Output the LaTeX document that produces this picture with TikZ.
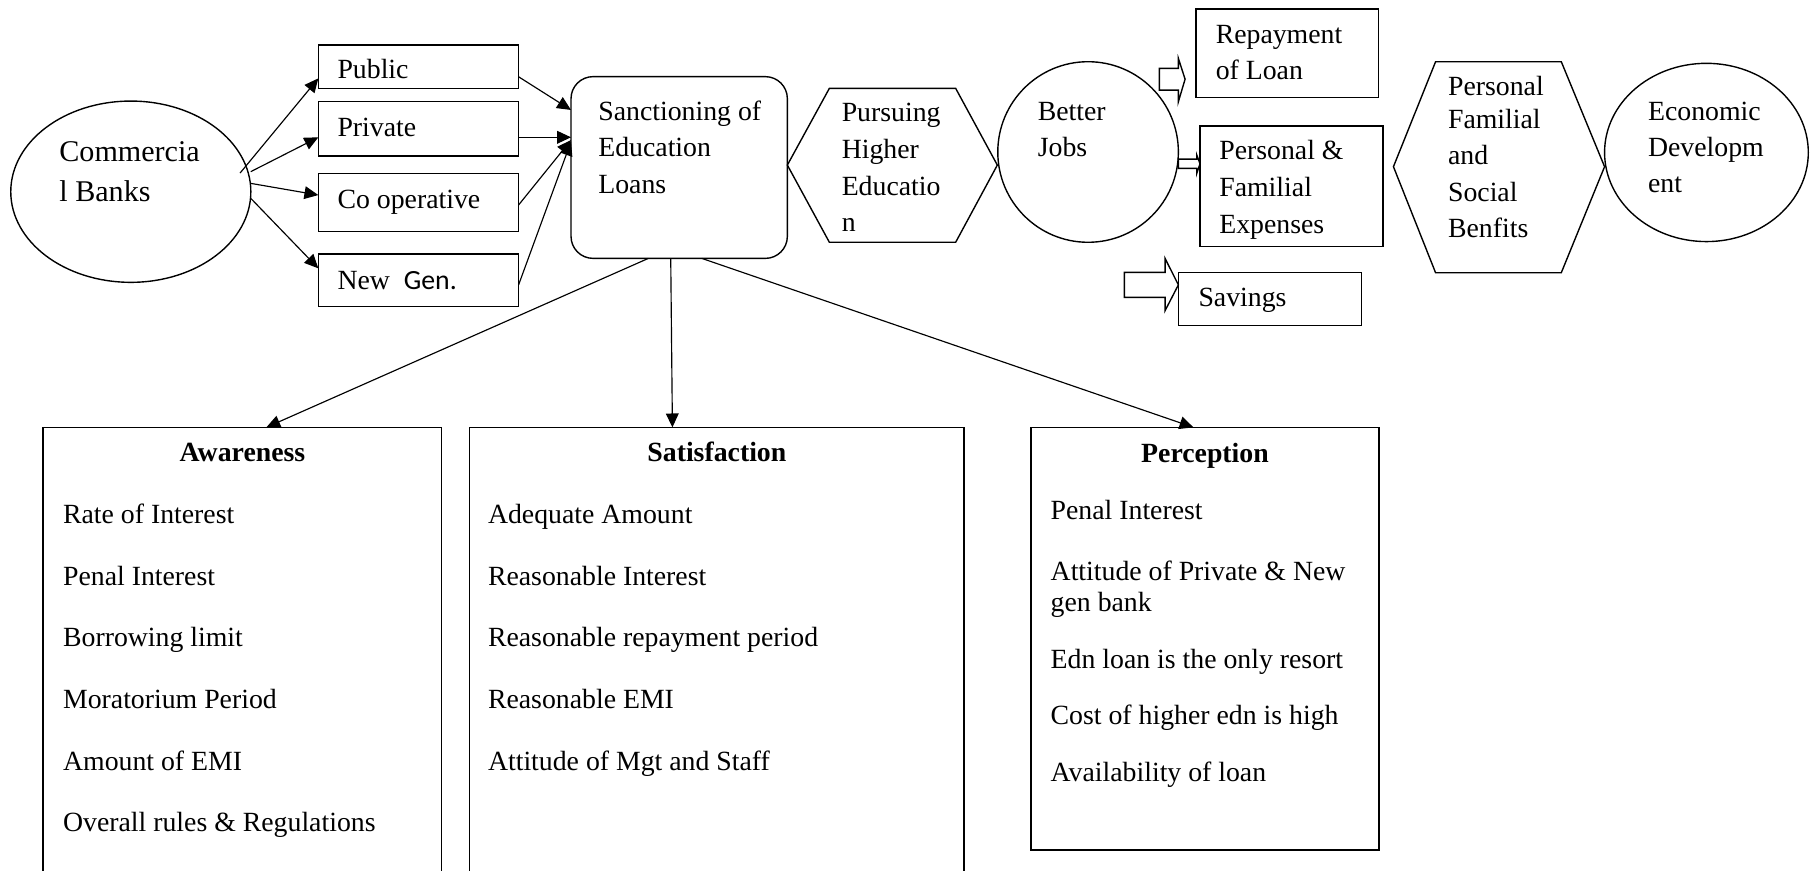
\documentclass[tikz,border=0pt]{standalone}
\usepackage{fontspec}
\setmainfont{Liberation Serif}
\newfontfamily\calib{Carlito}
\usetikzlibrary{arrows.meta,calc,shapes.geometric}
\begin{document}
\begin{tikzpicture}[x=0.5pt,y=-0.5pt,
  box/.style={draw,line width=0.6pt,rectangle,inner sep=0pt,outer sep=0pt,anchor=north west},
  oval/.style={draw,line width=0.6pt,ellipse,inner sep=0pt,outer sep=0pt},
  txt/.style={anchor=base west,inner sep=0pt,outer sep=0pt,font=\fontsize{12}{14}\selectfont},
  bigtxt/.style={txt,font=\fontsize{13}{16}\selectfont},
  ttl/.style={anchor=base,inner sep=0pt,outer sep=0pt,font=\fontsize{12}{14}\selectfont\bfseries},
  conn/.style={line width=0.5pt,-{Triangle[length=6pt,width=5.5pt]}},
  hexa/.style={draw,line width=0.6pt},
  blk/.style={draw,line width=0.6pt,fill=white}]
\useasboundingbox (0,0) rectangle (1568,752);
\clip (0,0) rectangle (1568,752);

% Commercial banks
\node[oval,minimum width=103.7pt,minimum height=78.3pt] (cb) at (113,165.6) {};
\node[bigtxt] (cb1) at (51.3,139.7) {Commercia};
\node[bigtxt] (cb2) at (51.3,174.2) {l Banks};

% bank types
\node[box,minimum width=86.5pt,minimum height=18.7pt] (pub) at (275,38.9) {};
\node[box,minimum width=86.5pt,minimum height=23.5pt] (priv) at (275,87.8) {};
\node[box,minimum width=86.5pt,minimum height=25.2pt] (coop) at (275,149.7) {};
\node[box,minimum width=86.5pt,minimum height=22.75pt] (newgen) at (275,219.4) {};
\node[txt] (pubt) at (291.6,67.7) {Public};
\node[txt] (privt) at (291.6,117.5) {Private};
\node[txt] (coopt) at (291.6,180) {Co operative};
\node[txt] (newgent) at (291.6,250) {New\ \ {\calib Gen.}};

% sanctioning
\node[box,rounded corners=9.5pt,minimum width=93.45pt,minimum height=78.5pt] (sanct) at (493.3,66.2) {};
\node[txt] (sa1) at (516.9,103.7) {Sanctioning of};
\node[txt] (sa2) at (516.9,135.4) {Education};
\node[txt] (sa3) at (516.9,167) {Loans};

% pursuing hexagon
\draw[hexa] (680.2,142.6) -- (716.5,76.3) -- (825.6,76.3) -- (861.6,142.6) -- (825.6,209.3) -- (716.5,209.3) -- cycle;
\node[txt] (pu1) at (727.2,105.1) {Pursuing};
\node[txt] (pu2) at (727.2,136.8) {Higher};
\node[txt] (pu3) at (727.2,169.3) {Educatio};
\node[txt] (pu4) at (727.2,200.2) {n};

% better jobs
\node[oval,minimum width=78pt,minimum height=78pt] (jobs) at (940,131.3) {};
\node[txt] (jo1) at (896.6,103.7) {Better};
\node[txt] (jo2) at (896.6,135.4) {Jobs};

% outcomes
\node[box,minimum width=78.75pt,minimum height=38.3pt] (repay) at (1033.3,7.8) {};
\node[txt] (re1) at (1050.3,37.4) {Repayment};
\node[txt] (re2) at (1050.3,69.1) {of Loan};
\node[box,minimum width=79pt,minimum height=52.1pt] (pfe) at (1036.8,108.9) {};
\node[txt] (pf1) at (1053.4,138.2) {Personal \&};
\node[txt] (pf2) at (1053.4,169.9) {Familial};
\node[txt] (pf3) at (1053.4,201.6) {Expenses};
\node[box,minimum width=79pt,minimum height=22.9pt] (sav) at (1018,235.6) {};
\node[txt] (sv1) at (1035.4,264.4) {Savings};

% block arrows
\draw[blk] (1001.6,59) -- (1018,59) -- (1018,50.4) -- (1023.8,68.4) -- (1018,87.9) -- (1018,77.8) -- (1001.6,77.8) -- cycle;
\draw[blk] (1018,137.4) -- (1033.9,137.4) -- (1033.9,133.9) -- (1036.7,141.4) -- (1033.9,149.7) -- (1033.9,145.4) -- (1018,145.4) -- cycle;
\draw[blk] (971.3,235.3) -- (1006.5,235.3) -- (1006.5,223.2) -- (1018,246.1) -- (1006.5,268.4) -- (1006.5,256.9) -- (971.3,256.9) -- cycle;

% benefits hexagon
\draw[hexa] (1203.8,144) -- (1240.2,53.3) -- (1348.8,53.3) -- (1386.2,144) -- (1348.8,235.6) -- (1240.2,235.6) -- cycle;
\node[txt] (be1) at (1251,82.1) {Personal};
\node[txt] (be2) at (1251,110.9) {Familial};
\node[txt] (be3) at (1251,142.5) {and};
\node[txt] (be4) at (1251,174.2) {Social};
\node[txt] (be5) at (1251,205) {Benfits};

% economic development
\node[oval,minimum width=88pt,minimum height=77pt] (econ) at (1474.2,131.7) {};
\node[txt] (ec1) at (1423.8,103.7) {Economic};
\node[txt] (ec2) at (1423.8,135.4) {Developm};
\node[txt] (ec3) at (1423.8,166.5) {ent};

% connectors banks
\coordinate (s1) at (207.4,149.5);
\coordinate (s2) at (216.6,148.3);
\coordinate (s3) at (216.6,158.4);
\coordinate (s4) at (216.6,171.3);
\draw[conn] (s1) -- ($(pub.west)+(0,10.1)$);
\draw[conn] (s2) -- ($(priv.west)+(0,7.3)$);
\draw[conn] (s3) -- ($(coop.west)+(0,-6.4)$);
\draw[conn] (s4) -- ($(newgen.west)+(0,-10.35)$);
\draw[conn] ($(pub.east)+(0,8.7)$) -- ($(sanct.west)+(0,-49.7)$);
\draw[conn] ($(priv.east)+(0,7.3)$) -- ($(sanct.west)+(0,-26.1)$);
\draw[conn] ($(coop.east)+(0,2.2)$) -- ($(sanct.west)+(0,-23.7)$);
\draw[conn] ($(newgen.east)+(0,4)$) -- ($(sanct.west)+(0,-22.3)$);

% bottom boxes
\node[box,minimum width=172.3pt,minimum height=200pt] (aw) at (37,369.2) {};
\node[box,minimum width=213.7pt,minimum height=200pt] (sat) at (405.4,369.2) {};
\node[box,minimum width=150.35pt,minimum height=182.55pt] (per) at (890.7,369.2) {};

\draw[conn] ($(sanct.south)+(-26.6,0)$) -- ($(aw.north)+(20.8,0)$);
\draw[conn] ($(sanct.south)+(-7.3,0)$) -- ($(sat.north)+(-38.2,0)$);
\draw[conn] ($(sanct.south)+(19.5,0)$) -- ($(per.north)+(-10,0)$);

\node[ttl] (awt) at (209.5,398.8) {Awareness};
\node[ttl] (satt) at (619.3,398.8) {Satisfaction};
\node[ttl] (pert) at (1041,399.7) {Perception};

\foreach \t [count=\i] in {Rate of Interest,Penal Interest,Borrowing limit,Moratorium Period,Amount of EMI,Overall rules \& Regulations}
  \node[txt] (aw\i) at (54.5,{452.1+(\i-1)*53.3}) {\t};
\foreach \t [count=\i] in {Adequate Amount,Reasonable Interest,Reasonable repayment period,Reasonable EMI,Attitude of Mgt and Staff}
  \node[txt] (sat\i) at (421.6,{452.1+(\i-1)*53.3}) {\t};

\node[txt] (pe1) at (907.7,448.7) {Penal Interest};
\node[txt] (pe2) at (907.7,501.1) {Attitude of Private \& New};
\node[txt] (pe3) at (907.7,528.4) {gen bank};
\node[txt] (pe4) at (907.7,577.4) {Edn loan is the only resort};
\node[txt] (pe5) at (907.7,626.3) {Cost of higher edn is high};
\node[txt] (pe6) at (907.7,675.3) {Availability of loan};
\end{tikzpicture}
\end{document}
